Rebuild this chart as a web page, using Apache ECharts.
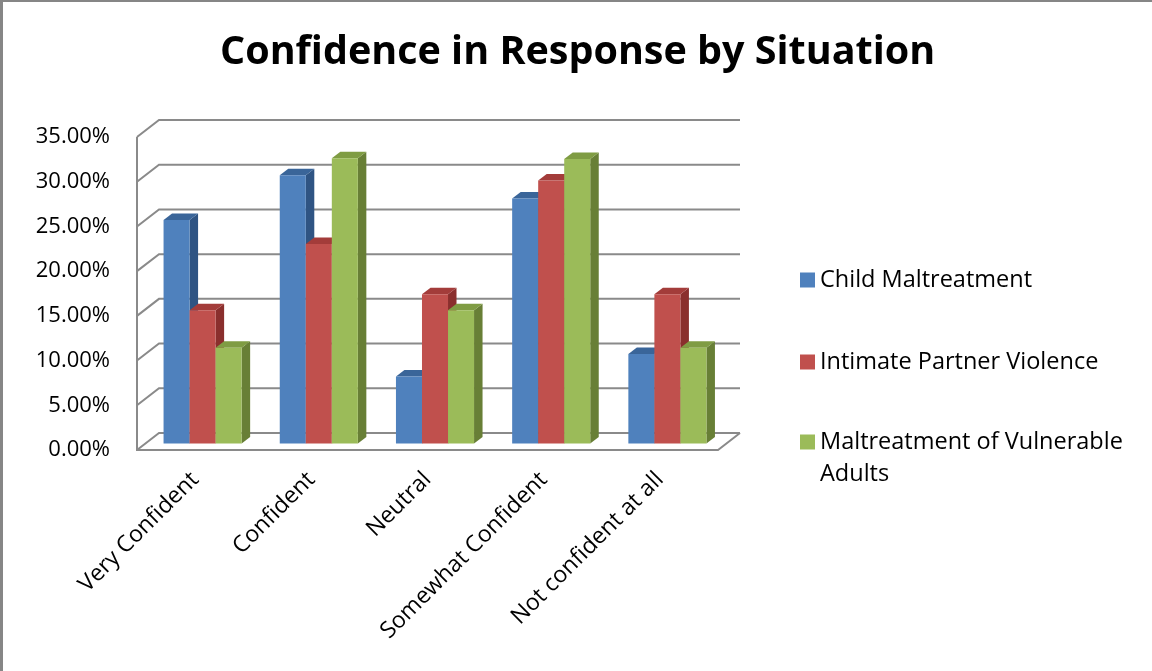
<!DOCTYPE html>
<html>
<head>
<meta charset="utf-8">
<title>Confidence in Response by Situation</title>
<script src="https://cdn.jsdelivr.net/npm/echarts@6/dist/echarts.min.js"></script>
<style>
  html, body { margin: 0; padding: 0; background: #fff; }
  #chart { width: 1152px; height: 671px; }
</style>
</head>
<body>
<div id="chart"></div>
<script>
// Survey categories and the share of respondents per situation
const categories = ['Very Confident', 'Confident', 'Neutral', 'Somewhat Confident', 'Not confident at all'];
const seriesNames = ['Child Maltreatment', 'Intimate Partner Violence', 'Maltreatment of Vulnerable Adults'];
const childMaltreatment = [0.250, 0.300, 0.075, 0.274, 0.100];
const intimatePartnerViolence = [0.149, 0.223, 0.167, 0.294, 0.167];
const vulnerableAdults = [0.107, 0.319, 0.149, 0.318, 0.107];
const yTicks = [0, 0.05, 0.10, 0.15, 0.20, 0.25, 0.30, 0.35];

const FONT = '"Open Sans", "Liberation Sans", sans-serif';

// Perspective: depth vector of the chart box, bar offset and bar depth (px)
const DEPTH = [22, -17];
const BAR_OFFSET = [7.5, -6.5];
const BAR_DEPTH = [8.5, -6.5];
const BAR_RATIO = 0.224;      // bar width as share of the category band
const GRID_COLOR = '#8a8a8a';

const palettes = [
  { front: '#4F81BD', side: '#2F5483', top: '#3A6599' },
  { front: '#C0504D', side: '#8A2F2D', top: '#A33C3A' },
  { front: '#9BBB59', side: '#687F36', top: '#7F9C43' }
];

// Walls and floor of the 3D box, one polyline per y tick
function renderFrame(params, api) {
  const cs = params.coordSys;
  const v = api.value(1);
  const y = api.coord([0, v])[1];
  const line = pts => ({
    type: 'polyline',
    shape: { points: pts },
    style: { stroke: GRID_COLOR, lineWidth: 2, fill: null }
  });
  const children = [
    line([[cs.x, y], [cs.x + DEPTH[0], y + DEPTH[1]], [cs.x + cs.width + DEPTH[0], y + DEPTH[1]]])
  ];
  if (v === 0) {
    const yb = cs.y + cs.height;
    children.push(line([[cs.x, cs.y], [cs.x, yb], [cs.x + cs.width, yb],
      [cs.x + cs.width + DEPTH[0], yb + DEPTH[1]]]));
  }
  return { type: 'group', children };
}

// One 3D bar: front face, right side and top
function barRenderer(k) {
  const c = palettes[k];
  return function (params, api) {
    const ci = api.value(0);
    const v = api.value(1);
    const base = api.coord([ci, 0]);
    const topPt = api.coord([ci, v]);
    const band = api.size([1, 0])[0];
    const bw = band * BAR_RATIO;
    const x0 = base[0] - 1.5 * bw + k * bw + BAR_OFFSET[0];
    const x1 = x0 + bw;
    const yb = base[1] + BAR_OFFSET[1];
    const yt = topPt[1] + BAR_OFFSET[1];
    const dx = BAR_DEPTH[0], dy = BAR_DEPTH[1];
    return {
      type: 'group',
      children: [
        { type: 'polygon', shape: { points: [[x1, yt], [x1 + dx, yt + dy], [x1 + dx, yb + dy], [x1, yb]] },
          style: { fill: c.side } },
        { type: 'polygon', shape: { points: [[x0, yt], [x0 + dx, yt + dy], [x1 + dx, yt + dy], [x1, yt]] },
          style: { fill: c.top } },
        { type: 'rect', shape: { x: x0, y: yt, width: bw, height: yb - yt },
          style: { fill: c.front } }
      ]
    };
  };
}

const seriesValues = [childMaltreatment, intimatePartnerViolence, vulnerableAdults];

const barSeries = seriesValues.map((vals, k) => ({
  type: 'custom',
  name: seriesNames[k],
  z: 3,
  itemStyle: { color: palettes[k].front },
  encode: { x: 0, y: 1 },
  renderItem: barRenderer(k),
  data: vals.map((v, i) => [i, v])
}));

function legendAt(name, top, formatter) {
  return {
    data: [name],
    left: 800,
    top: top,
    orient: 'vertical',
    padding: 0,
    icon: 'rect',
    itemWidth: 15,
    itemHeight: 15,
    formatter: formatter,
    textStyle: { fontFamily: FONT, fontSize: 23.5, color: '#000', lineHeight: 32 }
  };
}

const chart = echarts.init(document.getElementById('chart'), null, { renderer: 'canvas' });
chart.setOption({
  animation: false,
  backgroundColor: '#ffffff',
  title: {
    text: 'Confidence in Response by Situation',
    left: 215,
    top: 28,
    textStyle: { fontFamily: FONT, fontWeight: 'bold', fontSize: 39.5, color: '#000' }
  },
  legend: [
    legendAt(seriesNames[0], 264),
    legendAt(seriesNames[1], 346),
    legendAt(seriesNames[2], 394, () => '\nMaltreatment of Vulnerable\nAdults')
  ],
  grid: { left: 137, top: 137, width: 581, height: 313 },
  xAxis: {
    type: 'category',
    data: categories,
    axisLine: { show: false },
    axisTick: { show: false },
    axisLabel: {
      interval: 0,
      rotate: 45,
      margin: 26,
      fontFamily: FONT,
      fontSize: 23,
      color: '#000'
    }
  },
  yAxis: {
    type: 'value',
    min: 0,
    max: 0.35,
    interval: 0.05,
    axisLine: { show: false },
    axisTick: { show: false },
    splitLine: { show: false },
    axisLabel: {
      margin: 27,
      fontFamily: FONT,
      fontSize: 22,
      color: '#000',
      formatter: v => (v * 100).toFixed(2) + '%'
    }
  },
  graphic: [
    { type: 'rect', left: 0, top: 0, shape: { width: 1152, height: 2 }, style: { fill: '#868686' }, silent: true },
    { type: 'rect', left: 0, top: 0, shape: { width: 3, height: 671 }, style: { fill: '#868686' }, silent: true }
  ],
  series: [
    {
      type: 'custom',
      name: 'frame',
      z: 1,
      silent: true,
      encode: { x: 0, y: 1 },
      renderItem: renderFrame,
      data: yTicks.map(t => [0, t])
    }
  ].concat(barSeries)
});
</script>
</body>
</html>
